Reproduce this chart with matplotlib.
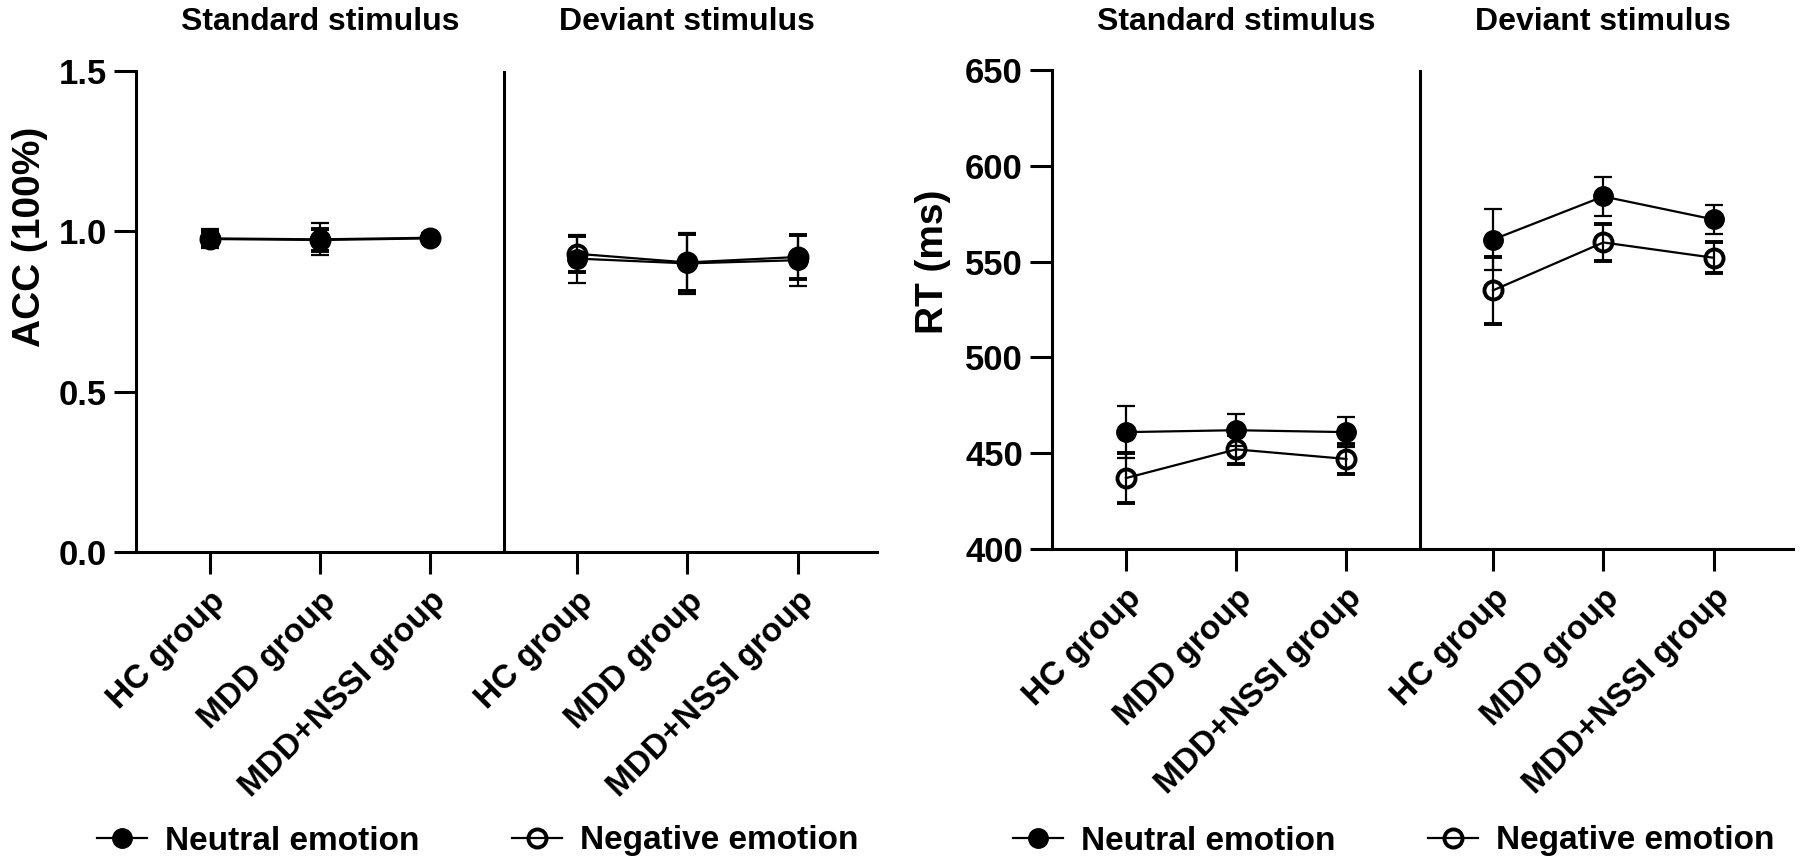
import matplotlib
matplotlib.use("Agg")
import matplotlib.pyplot as plt
import matplotlib.transforms as mtransforms

# ------------------------------
# Data
# ------------------------------
groups = ["HC group", "MDD group", "MDD+NSSI group"] * 2
x_pos = [0, 1, 2, 3.33, 4.33, 5.33]
divider_x = 2.67
titles = ["Standard stimulus", "Deviant stimulus"]
title_x = [1, 4.33]

# ACC (standard x3, deviant x3)
acc_neutral = [0.978, 0.975, 0.980, 0.915, 0.900, 0.910]
acc_neutral_err = [0.030, 0.050, 0.015, 0.075, 0.095, 0.080]
acc_negative = [0.976, 0.973, 0.978, 0.930, 0.903, 0.920]
acc_negative_err = [0.025, 0.035, 0.012, 0.057, 0.090, 0.070]

# RT in ms
rt_neutral = [461, 462, 461, 561.5, 584, 572]
rt_neutral_err = [13.5, 8.5, 8, 16, 10, 7.5]
rt_negative = [437, 452, 447, 535, 560, 552]
rt_negative_err = [13, 7.5, 8, 17.5, 9.5, 8]

acc_ticks = [0.0, 0.5, 1.0, 1.5]
rt_ticks = [400, 450, 500, 550, 600, 650]

plt.rcParams["font.family"] = ["Liberation Sans", "DejaVu Sans"]
plt.rcParams["font.weight"] = "bold"
plt.rcParams["axes.labelweight"] = "bold"

fig = plt.figure(figsize=(18.01, 8.68), dpi=100)
ax_acc = fig.add_axes([136 / 1801, 1 - 552 / 868, 741 / 1801, 481 / 868])
ax_rt = fig.add_axes([1052 / 1801, 1 - 549 / 868, 741 / 1801, 479 / 868])


def draw_panel(ax, neu, neu_err, neg, neg_err, ylim, yticks, ylabel, fmt, label_xy):
    lw = 1.6
    # negative first so the filled markers sit on top
    eb_neg = ax.errorbar(x_pos[:3], neg[:3], yerr=neg_err[:3], color="black", lw=lw,
                         marker="o", ms=13, mfc="none", mec="black", mew=2.8,
                         capsize=6.8, capthick=lw, elinewidth=lw, zorder=3)
    ax.errorbar(x_pos[3:], neg[3:], yerr=neg_err[3:], color="black", lw=lw,
                marker="o", ms=13, mfc="none", mec="black", mew=2.8,
                capsize=6.8, capthick=lw, elinewidth=lw, zorder=3)
    eb_neu = ax.errorbar(x_pos[:3], neu[:3], yerr=neu_err[:3], color="black", lw=lw,
                         marker="o", ms=14, mfc="black", mec="black",
                         capsize=6.8, capthick=lw, elinewidth=lw, zorder=4)
    ax.errorbar(x_pos[3:], neu[3:], yerr=neu_err[3:], color="black", lw=lw,
                marker="o", ms=14, mfc="black", mec="black",
                capsize=6.8, capthick=lw, elinewidth=lw, zorder=4)

    ax.axvline(divider_x, color="black", lw=2.2, zorder=1)
    ax.set_xlim(-0.67, 6.05)
    ax.set_ylim(*ylim)
    ax.set_yticks(yticks)
    ax.set_yticklabels([fmt.format(v) for v in yticks], fontsize=25, fontweight="bold")
    ax.set_xticks(x_pos)
    ax.set_xticklabels(groups, rotation=45, ha="right", va="top",
                       rotation_mode="anchor", fontsize=24, fontweight="bold")
    ax.tick_params(axis="both", length=16, width=2.2, color="black")
    ax.tick_params(axis="x", pad=8)
    ax.tick_params(axis="y", pad=5)
    for side in ["top", "right"]:
        ax.spines[side].set_visible(False)
    for side in ["left", "bottom"]:
        ax.spines[side].set_linewidth(2.2)

    ax.set_ylabel(ylabel, fontsize=28, fontweight="bold")
    ax.yaxis.label.set_va("center")
    ax.yaxis.set_label_coords(*label_xy)

    trans = mtransforms.blended_transform_factory(ax.transData, fig.transFigure)
    for t, tx in zip(titles, title_x):
        ax.text(tx, 1 - 22 / 868, t, transform=trans, ha="center", va="center",
                fontsize=23, fontweight="bold")
    return eb_neu[0], eb_neg[0]


h_acc = draw_panel(ax_acc, acc_neutral, acc_neutral_err, acc_negative, acc_negative_err,
                   (0, 1.5), acc_ticks, "ACC (100%)", "{:.1f}", (-0.143, 0.655))
h_rt = draw_panel(ax_rt, rt_neutral, rt_neutral_err, rt_negative, rt_negative_err,
                  (400, 650), rt_ticks, "RT (ms)", "{:d}", (-0.16, 0.60))

for handles, x0 in [(h_acc, 97), (h_rt, 1013)]:
    fig.legend(handles, ["Neutral emotion", "Negative emotion"], ncol=2,
               loc="center left", bbox_to_anchor=(x0 / 1801, 1 - 841 / 868),
               frameon=False, fontsize=24, handlelength=1.5, handletextpad=0.55,
               columnspacing=2.75, borderpad=0, borderaxespad=0)

fig.savefig("out.png", dpi=100)
